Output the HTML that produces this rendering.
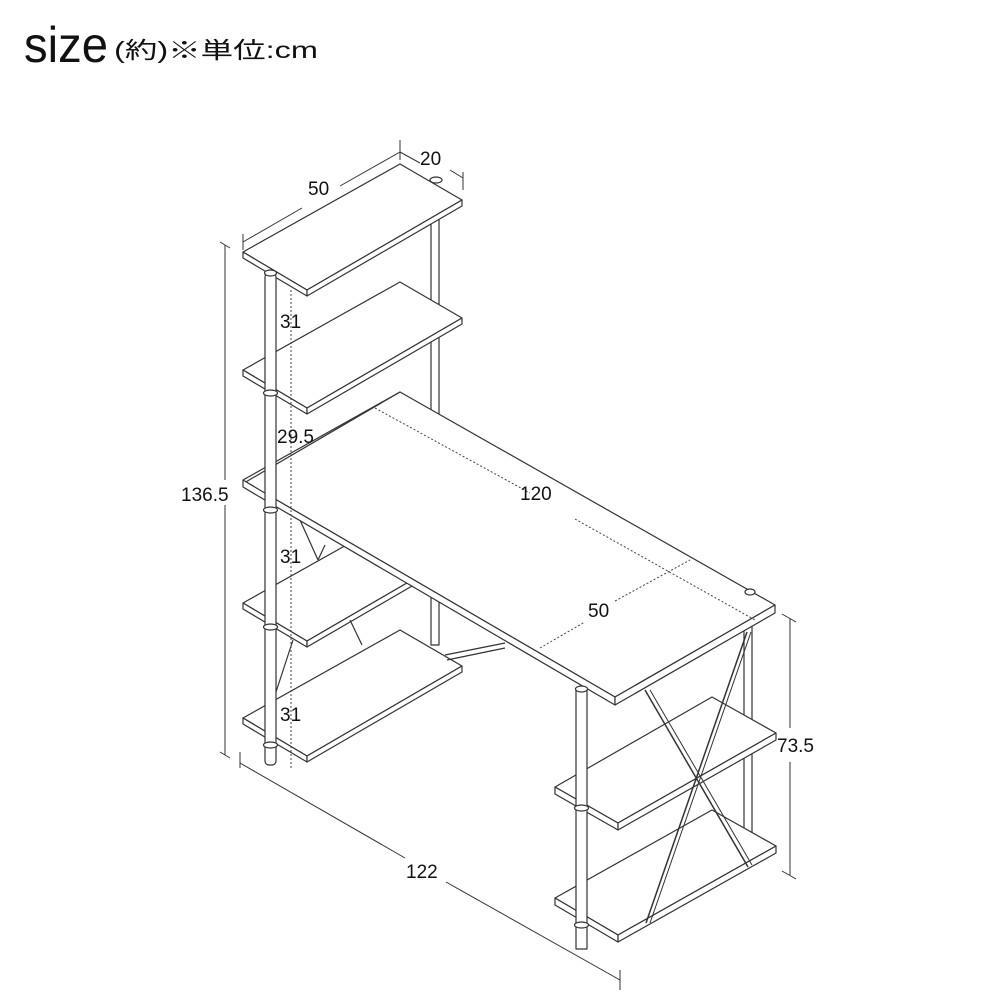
<!DOCTYPE html>
<html><head><meta charset="utf-8"><style>
html,body{margin:0;padding:0;background:#fff;}
svg{display:block;}
text{font-family:"Liberation Sans","Noto Sans CJK JP",sans-serif;fill:#111;}
</style></head><body>
<svg width="1000" height="1000" viewBox="0 0 1000 1000" xmlns="http://www.w3.org/2000/svg">
<text x="24" y="62" font-size="50" textLength="84" lengthAdjust="spacingAndGlyphs">size</text>
<text x="114" y="58" font-size="23" textLength="204" lengthAdjust="spacingAndGlyphs">(約)※単位:cm</text>

<g stroke="#333" stroke-width="1.2" fill="#fff" stroke-linejoin="round">
<rect x="431" y="215" width="8" height="430"/>
<polygon points="243,252 400,164 462,200 307,290"/>
<polygon points="243,252 307,290 307,296 243,258"/>
<polygon points="307,290 462,200 462,206 307,296"/>

<polygon points="243,370 400,282 462,318 307,408"/>
<polygon points="243,370 307,408 307,414 243,376"/>
<polygon points="307,408 462,318 462,324 307,414"/>

<polygon points="243,603 400,515 462,551 307,641"/>
<polygon points="243,603 307,641 307,647 243,609"/>
<polygon points="307,641 462,551 462,557 307,647"/>

<polygon points="243,718 400,630 462,666 307,756"/>
<polygon points="243,718 307,756 307,762 243,724"/>
<polygon points="307,756 462,666 462,672 307,762"/>

<line x1="300" y1="520" x2="318" y2="560"/>
<line x1="325" y1="545" x2="318" y2="560"/>
<line x1="350" y1="620" x2="362" y2="645"/>
<line x1="293" y1="640" x2="275" y2="695"/>
<line x1="445" y1="655" x2="505" y2="643"/>
<line x1="447" y1="660" x2="505" y2="648"/>

<rect x="744" y="610" width="8" height="230"/>
<polygon points="555,787 712,697 776,733 618,823"/>
<polygon points="555,787 618,823 618,830 555,794"/>
<polygon points="618,823 776,733 776,740 618,830"/>
<polygon points="555,898 712,810 776,846 618,935"/>
<polygon points="555,898 618,935 618,942 555,905"/>
<polygon points="618,935 776,846 776,853 618,942"/>

<polygon points="244,483 400,392 775,605 615,697 275,499"/>
<polygon points="243,480 275,499 275,506 243,487"/>
<polygon points="275,499 615,697 615,705 275,506"/>
<polygon points="615,697 775,605 775,613 615,705"/>
<line x1="243" y1="480" x2="400" y2="392"/>

<line x1="645" y1="690" x2="748" y2="867" stroke-width="1.5"/>
<line x1="650" y1="690" x2="752" y2="865" stroke-width="1"/>
<line x1="747" y1="632" x2="646" y2="923" stroke-width="1.5"/>
<line x1="751" y1="632" x2="650" y2="923" stroke-width="1"/>

<rect x="265" y="273" width="11" height="492" rx="4"/>
<ellipse cx="270.5" cy="273" rx="6" ry="3"/>
<ellipse cx="270.5" cy="393" rx="7" ry="3"/>
<ellipse cx="270.5" cy="510" rx="7" ry="3"/>
<ellipse cx="270.5" cy="627" rx="7" ry="3"/>
<ellipse cx="270.5" cy="745" rx="7" ry="3"/>
<rect x="576" y="689" width="11" height="260"/>
<ellipse cx="581.5" cy="689" rx="6" ry="3"/>
<ellipse cx="581.5" cy="808" rx="7" ry="3"/>
<ellipse cx="581.5" cy="925" rx="7" ry="3"/>
<ellipse cx="436" cy="180" rx="6" ry="3"/>
<ellipse cx="750" cy="592" rx="5" ry="3"/>
</g>

<g stroke="#444" stroke-width="1" stroke-dasharray="2,2" fill="none">
<line x1="291" y1="290" x2="291" y2="768"/>
<line x1="375" y1="408" x2="530" y2="493"/>
<line x1="575" y1="519" x2="755" y2="620"/>
<line x1="540" y1="648" x2="585" y2="622"/>
<line x1="615" y1="601" x2="690" y2="560"/>
</g>

<g stroke="#333" stroke-width="1" fill="none">
<line x1="243" y1="242" x2="302" y2="208"/>
<line x1="340" y1="186" x2="400" y2="152"/>
<line x1="243" y1="234" x2="243" y2="250"/>
<line x1="400" y1="140" x2="400" y2="160"/>
<line x1="400" y1="152" x2="420" y2="163"/>
<line x1="450" y1="170" x2="463" y2="178"/>
<line x1="463" y1="172" x2="463" y2="190"/>
<line x1="225" y1="245" x2="225" y2="480"/>
<line x1="225" y1="505" x2="225" y2="755"/>
<line x1="220" y1="242" x2="230" y2="248"/>
<line x1="220" y1="752" x2="230" y2="758"/>
<line x1="240" y1="763" x2="405" y2="858"/>
<line x1="446" y1="882" x2="620" y2="980"/>
<line x1="240" y1="752" x2="240" y2="768"/>
<line x1="620" y1="970" x2="620" y2="990"/>
<line x1="790" y1="618" x2="790" y2="728"/>
<line x1="790" y1="762" x2="790" y2="875"/>
<line x1="782" y1="614" x2="796" y2="622"/>
<line x1="782" y1="871" x2="796" y2="879"/>
</g>

<g font-size="19">
<text x="308" y="195">50</text>
<text x="420" y="165">20</text>
<text x="280" y="328">31</text>
<text x="277" y="443">29.5</text>
<text x="181" y="501">136.5</text>
<text x="520" y="500">120</text>
<text x="280" y="563">31</text>
<text x="588" y="617">50</text>
<text x="280" y="721">31</text>
<text x="777" y="752">73.5</text>
<text x="406" y="878">122</text>
</g>
</svg>
</body></html>
